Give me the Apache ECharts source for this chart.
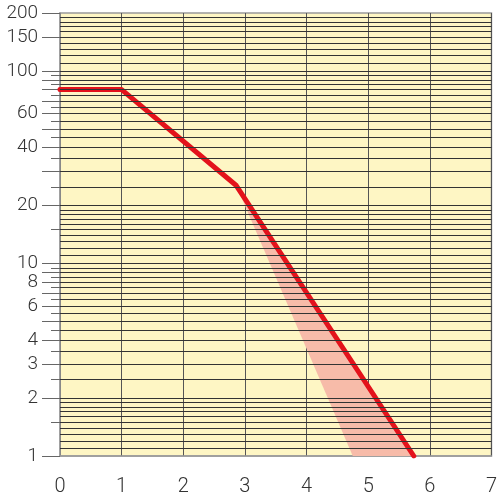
<!DOCTYPE html>
<html>
<head>
<meta charset="utf-8">
<script src="https://cdn.jsdelivr.net/npm/echarts@6/dist/echarts.min.js"></script>
<style>
html,body{margin:0;padding:0;background:#fff;}
#c{width:500px;height:500px;}
</style>
</head>
<body>
<div id="c"></div>
<script>
const xTickValues = [0, 1, 2, 3, 4, 5, 6, 7];
const yLabelValues = [1, 2, 3, 4, 6, 8, 10, 20, 40, 60, 100, 150, 200];
const yLongTicks = [1, 2, 3, 4, 5, 6, 7, 8, 9, 10, 20, 30, 40, 50, 60, 70, 80, 90, 100, 150, 200];
const yShortTicks = [1.5, 2.5, 3.5, 4.5, 5.5, 6.5, 7.5, 8.5, 9.5, 15, 25, 35, 45, 55, 65, 75, 85, 95];
const gridLineValues = [
  1.1, 1.2, 1.3, 1.4, 1.5, 1.6, 1.7, 1.8, 1.9,
  2, 2.5, 3, 3.5, 4, 4.5, 5, 5.5, 6, 6.5, 7, 7.5, 8, 8.5, 9, 9.5,
  10, 11, 12, 13, 14, 15, 16, 17, 18, 19,
  20, 25, 30, 35, 40, 45, 50, 55, 60, 65, 70, 75, 80, 85, 90, 95,
  100, 110, 120, 130, 140, 150, 160, 170, 180, 190
];
const linePoints = [[0, 80], [1, 80], [2.86, 25.4], [5.74, 1]];
const bandPoints = [[2.86, 25.4], [4.75, 1], [5.74, 1]];

const FONT = 'Roboto, "Liberation Sans", sans-serif';
const chart = echarts.init(document.getElementById('c'), null, {renderer: 'canvas'});

const option = {
  animation: false,
  grid: {
    left: 60, right: 4, top: 13, bottom: 44,
    show: true, backgroundColor: '#fef6c4', borderColor: '#9a9a9a', borderWidth: 1.5
  },
  xAxis: {
    type: 'value', min: 0, max: 7, interval: 1,
    axisLine: {show: true, lineStyle: {color: '#9a9a9a', width: 1.5}},
    axisTick: {show: false},
    splitLine: {show: true, lineStyle: {color: '#555', width: 1}},
    axisLabel: {
      customValues: xTickValues,
      fontSize: 20, color: '#333', fontFamily: FONT, fontWeight: 300, margin: 21
    }
  },
  yAxis: [
    {
      type: 'log', logBase: 10, min: 1, max: 200, position: 'left',
      axisLine: {show: true, lineStyle: {color: '#9a9a9a', width: 1.5}},
      axisTick: {show: true, customValues: yLongTicks, length: 18, lineStyle: {color: '#666', width: 1}},
      axisLabel: {
        customValues: yLabelValues,
        fontSize: 19, color: '#333', fontFamily: FONT, fontWeight: 300, margin: 22
      },
      splitLine: {show: false}
    },
    {
      type: 'log', logBase: 10, min: 1, max: 200, position: 'left', offset: 0,
      axisLine: {show: false},
      axisTick: {show: true, customValues: yShortTicks, length: 9, lineStyle: {color: '#666', width: 1}},
      axisLabel: {show: false},
      splitLine: {show: false}
    }
  ],
  series: [
    {
      type: 'custom', z: 1, silent: true,
      data: bandPoints,
      encode: {x: 0, y: 1},
      renderItem: function (params, api) {
        if (params.dataIndex !== 0) return null;
        const pts = bandPoints.map(p => api.coord(p));
        return {type: 'polygon', shape: {points: pts}, style: {fill: '#f7bba9'}};
      }
    },
    {
      type: 'line', z: 2, silent: true, data: [], symbol: 'none',
      markLine: {
        silent: true, symbol: ['none', 'none'], animation: false,
        label: {show: false},
        lineStyle: {color: '#333', width: 1, type: 'solid'},
        emphasis: {disabled: true},
        data: gridLineValues.map(v => ({yAxis: v}))
      }
    },
    {
      type: 'line', z: 3, silent: true,
      data: linePoints, symbol: 'none',
      lineStyle: {color: '#e3121b', width: 5, cap: 'round', join: 'round'}
    }
  ]
};
chart.setOption(option);
</script>
</body>
</html>
